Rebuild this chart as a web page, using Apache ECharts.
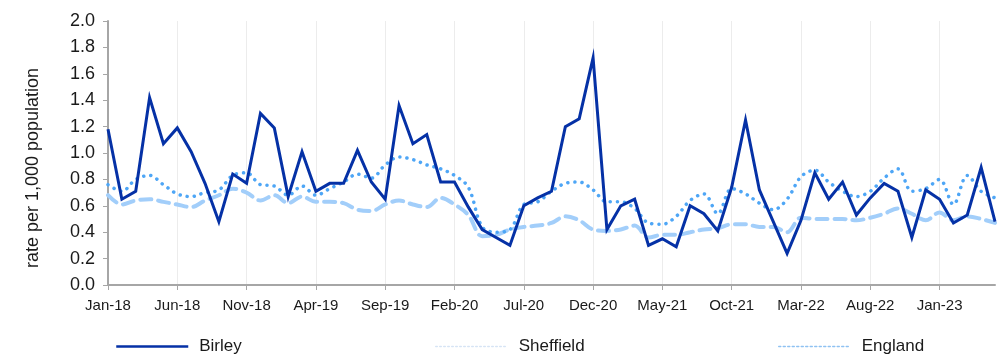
<!DOCTYPE html>
<html>
<head>
<meta charset="utf-8">
<title>Rate per 1,000 population</title>
<script src="https://cdn.jsdelivr.net/npm/echarts@6/dist/echarts.min.js"></script>
<style>
  html, body { margin: 0; padding: 0; background: #ffffff; }
  #chart { width: 999px; height: 357px; }
</style>
</head>
<body>
<div id="chart"></div>
<script>
// Monthly categories, Jan-18 to May-23
var monthNames = ['Jan', 'Feb', 'Mar', 'Apr', 'May', 'Jun', 'Jul', 'Aug', 'Sep', 'Oct', 'Nov', 'Dec'];
var startYear = 18;
var monthCount = 65;
var categories = [];
for (var i = 0; i < monthCount; i++) {
  categories.push(monthNames[i % 12] + '-' + (startYear + Math.floor(i / 12)));
}

// Rate per 1,000 population
var birley = [
  1.18, 0.65, 0.71, 1.42, 1.07, 1.19, 1.01, 0.77, 0.48, 0.84, 0.77, 1.30,
  1.19, 0.67, 1.01, 0.71, 0.77, 0.77, 1.02, 0.78, 0.65, 1.36, 1.07, 1.14,
  0.78, 0.78, 0.59, 0.42, 0.36, 0.30, 0.60, 0.66, 0.71, 1.20, 1.26, 1.72,
  0.42, 0.60, 0.65, 0.30, 0.35, 0.29, 0.60, 0.54, 0.41, 0.74, 1.25, 0.72,
  0.48, 0.24, 0.49, 0.85, 0.65, 0.78, 0.53, 0.66, 0.77, 0.71, 0.36, 0.72,
  0.65, 0.47, 0.53, 0.89, 0.48
];
var sheffield = [
  0.76, 0.71, 0.80, 0.83, 0.76, 0.69, 0.67, 0.70, 0.72, 0.83, 0.85, 0.76,
  0.75, 0.68, 0.75, 0.68, 0.73, 0.78, 0.84, 0.81, 0.91, 0.97, 0.95, 0.91,
  0.88, 0.83, 0.74, 0.44, 0.40, 0.42, 0.61, 0.63, 0.71, 0.77, 0.78, 0.72,
  0.63, 0.63, 0.58, 0.47, 0.46, 0.52, 0.64, 0.69, 0.54, 0.73, 0.69, 0.62,
  0.57, 0.65, 0.82, 0.87, 0.78, 0.71, 0.67, 0.71, 0.81, 0.88, 0.71, 0.73,
  0.80, 0.61, 0.83, 0.71, 0.66
];
var england = [
  0.68, 0.61, 0.64, 0.65, 0.63, 0.61, 0.59, 0.64, 0.68, 0.73, 0.70, 0.64,
  0.68, 0.62, 0.67, 0.63, 0.63, 0.62, 0.57, 0.56, 0.61, 0.64, 0.61, 0.59,
  0.66, 0.61, 0.53, 0.37, 0.38, 0.42, 0.44, 0.45, 0.47, 0.52, 0.49, 0.42,
  0.41, 0.42, 0.45, 0.36, 0.38, 0.38, 0.40, 0.42, 0.43, 0.46, 0.46, 0.44,
  0.44, 0.40, 0.51, 0.50, 0.50, 0.50, 0.49, 0.51, 0.54, 0.58, 0.54, 0.49,
  0.55, 0.49, 0.52, 0.50, 0.47
];

var FONT = 'Liberation Sans, Arial, sans-serif';
var BIRLEY_COLOR = '#0531a6';
var SHEFFIELD_COLOR = '#4ea6f6';
var ENGLAND_COLOR = '#a2cefa';

var chart = echarts.init(document.getElementById('chart'), null, { renderer: 'canvas' });

// One legend per series so each entry can sit at its own position
function legendFor(name, left, lineStyle) {
  return {
    show: true,
    left: left,
    top: 338,
    padding: 0,
    itemWidth: 72,
    itemHeight: 16,
    itemGap: 8,
    selectedMode: false,
    textStyle: { fontFamily: FONT, fontSize: 17, color: '#1a1a1a', padding: [0, 0, 0, 6] },
    data: [{ name: name, lineStyle: lineStyle, itemStyle: { opacity: 0 } }]
  };
}

chart.setOption({
  animation: false,
  backgroundColor: '#ffffff',
  textStyle: { fontFamily: FONT },
  grid: { left: 108, right: 4, top: 21, bottom: 72, containLabel: false },
  legend: [
    legendFor('Birley', 115, { color: BIRLEY_COLOR, width: 2.5, type: 'solid' }),
    legendFor('Sheffield', 435, { color: '#d6e4f5', width: 1.5, type: [1.5, 2.5] }),
    legendFor('England', 778, { color: '#8fc2f2', width: 1.5, type: [2, 2.5] })
  ],
  xAxis: {
    type: 'category',
    data: categories,
    boundaryGap: false,
    axisLine: { show: true, lineStyle: { color: '#a6a6a6', width: 2 } },
    axisTick: { show: true, interval: 4, length: 5, lineStyle: { color: '#a6a6a6', width: 1 } },
    axisLabel: { interval: 4, margin: 13, fontFamily: FONT, fontSize: 15, color: '#1a1a1a' },
    splitLine: { show: true, interval: 4, lineStyle: { color: '#ececec', width: 1 } }
  },
  yAxis: {
    type: 'value',
    min: 0,
    max: 2,
    interval: 0.2,
    name: 'rate per 1,000 population',
    nameLocation: 'middle',
    nameRotate: 90,
    nameGap: 66,
    nameTextStyle: { fontFamily: FONT, fontSize: 18, color: '#1a1a1a', padding: [0, 30, 0, 0] },
    axisLine: { show: true, lineStyle: { color: '#a6a6a6', width: 2 } },
    axisTick: { show: true, length: 5, lineStyle: { color: '#a6a6a6', width: 1 } },
    axisLabel: {
      margin: 13,
      fontFamily: FONT,
      fontSize: 18,
      color: '#1a1a1a',
      formatter: function (v) { return v.toFixed(1); }
    },
    splitLine: { show: false }
  },
  series: [
    {
      name: 'England',
      type: 'line',
      data: england,
      symbol: 'none',
      smooth: 0.35,
      z: 1,
      lineStyle: { color: ENGLAND_COLOR, width: 4, type: [11, 7], cap: 'round' },
      itemStyle: { color: ENGLAND_COLOR }
    },
    {
      name: 'Sheffield',
      type: 'line',
      data: sheffield,
      symbol: 'none',
      smooth: 0.35,
      z: 2,
      lineStyle: { color: SHEFFIELD_COLOR, width: 3.5, type: [0.1, 7], cap: 'round' },
      itemStyle: { color: SHEFFIELD_COLOR }
    },
    {
      name: 'Birley',
      type: 'line',
      data: birley,
      symbol: 'none',
      smooth: false,
      z: 3,
      lineStyle: { color: BIRLEY_COLOR, width: 3, type: 'solid', join: 'miter' },
      itemStyle: { color: BIRLEY_COLOR }
    }
  ]
});
</script>
</body>
</html>
